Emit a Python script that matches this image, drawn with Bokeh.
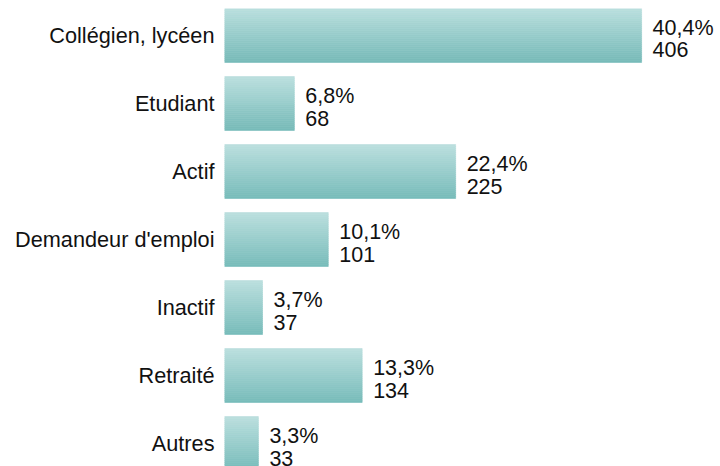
from bokeh.plotting import figure
from bokeh.models import Range1d, FixedTicker, ColumnDataSource
from bokeh.core.properties import value
from bokeh.embed import file_html
from bokeh.resources import INLINE

categories = ["Collégien, lycéen", "Etudiant", "Actif", "Demandeur d'emploi",
              "Inactif", "Retraité", "Autres"]
counts = [406, 68, 225, 101, 37, 134, 33]
percents = ["40,4%", "6,8%", "22,4%", "10,1%", "3,7%", "13,3%", "3,3%"]

FONT = "Liberation Sans"
FS = "21.5px"
BAR_H = 0.794
N_STRIPS = 27
TOP_RGB = (187, 223, 222)
BOT_RGB = (118, 187, 185)

pos = list(range(len(categories)))

p = figure(width=720, height=466, output_backend="svg", toolbar_location=None,
           x_range=Range1d(0, 482.8), y_range=Range1d(6.338, -0.397),
           min_border_left=224, min_border_right=0, min_border_top=8,
           min_border_bottom=0)
p.outline_line_color = None
p.xgrid.visible = False
p.ygrid.visible = False
p.xaxis.visible = False

# gradient bars as stacked thin strips
ys, rights, heights, colors = [], [], [], []
for i, c in zip(pos, counts):
    for k in range(N_STRIPS):
        t = (k + 0.5) / N_STRIPS
        r = round(TOP_RGB[0] + (BOT_RGB[0] - TOP_RGB[0]) * t)
        g = round(TOP_RGB[1] + (BOT_RGB[1] - TOP_RGB[1]) * t)
        b = round(TOP_RGB[2] + (BOT_RGB[2] - TOP_RGB[2]) * t)
        ys.append(i - BAR_H / 2 + (k + 0.5) * BAR_H / N_STRIPS)
        rights.append(c)
        heights.append(BAR_H / N_STRIPS)
        colors.append("#%02x%02x%02x" % (r, g, b))
strip_src = ColumnDataSource(dict(y=ys, right=rights, height=heights, color=colors))
p.hbar(y="y", left=0, right="right", height="height", fill_color="color",
       line_color="color", line_width=0.6, source=strip_src)

src = ColumnDataSource(dict(y=pos, x=counts, pct=percents,
                            cnt=[str(c) for c in counts]))
p.text(x="x", y="y", text="pct", source=src, x_offset=11, y_offset=-7.5,
       text_align="left", text_baseline="alphabetic", text_font=value(FONT),
       text_font_size=FS, text_color="#111111")
p.text(x="x", y="y", text="cnt", source=src, x_offset=11, y_offset=14.5,
       text_align="left", text_baseline="alphabetic", text_font=value(FONT),
       text_font_size=FS, text_color="#111111")

ax = p.yaxis[0]
ax.ticker = FixedTicker(ticks=pos)
ax.major_label_overrides = {i: c for i, c in zip(pos, categories)}
ax.axis_line_color = None
ax.major_tick_line_color = None
ax.minor_tick_line_color = None
ax.major_tick_out = 0
ax.major_tick_in = 0
ax.major_label_standoff = 10
ax.major_label_text_font = FONT
ax.major_label_text_font_size = "21.7px"
ax.major_label_text_color = "#111111"

open("out.html", "w").write(file_html(p, INLINE))
